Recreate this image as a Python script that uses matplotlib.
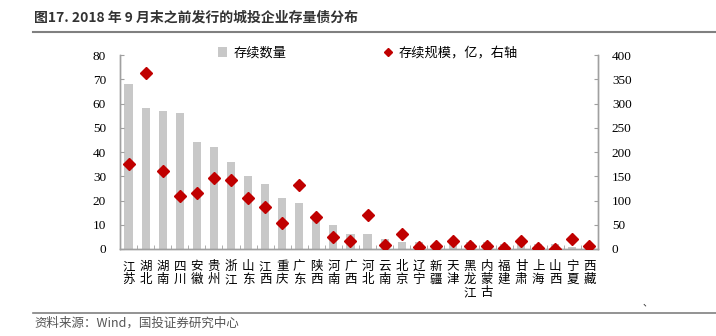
import numpy as np
import matplotlib.pyplot as plt
from matplotlib.lines import Line2D
from matplotlib.patches import Patch

plt.rcParams['font.family'] = ['Noto Sans CJK SC', 'DejaVu Sans']

BAR = "#c8c8c8"
RED = "#c00000"
AXC = "#a0a0a0"

provinces = ["江苏", "湖北", "湖南", "四川", "安徽", "贵州", "浙江", "山东", "江西", "重庆",
             "广东", "陕西", "河南", "广西", "河北", "云南", "北京", "辽宁", "新疆", "天津",
             "黑龙江", "内蒙古", "福建", "甘肃", "上海", "山西", "宁夏", "西藏"]
# number of bonds outstanding (left axis)
counts = [68, 58, 57, 56, 44, 42, 36, 30, 27, 21,
          19, 13, 10, 6, 6, 4, 3, 3, 2, 3,
          3, 3, 2, 3, 2, 2, 1, 1]
# outstanding amount, 100m yuan (right axis)
amounts = [176, 364, 161, 109, 116, 146, 142, 106, 87, 54,
           132, 65, 24, 17, 70, 9, 30, 4, 7, 17,
           7, 7, 1.5, 17, 1.5, 0, 20, 7]

x = np.arange(len(provinces))

fig = plt.figure(figsize=(7.16, 3.36), dpi=100)
ax = fig.add_axes([0.1676, 0.259, 0.6676, 0.577])
ax2 = ax.twinx()

ax.bar(x, counts, width=0.48, color=BAR, zorder=1)
ax2.plot(x, amounts, ls="none", marker="D", ms=6, color=RED, mec=RED, zorder=3)

ax.set_xlim(-0.5, len(provinces) - 0.5)
ax.set_ylim(0, 80)
ax.set_yticks(np.arange(0, 81, 10))
ax2.set_ylim(0, 400)
ax2.set_yticks(np.arange(0, 401, 50))

serif = dict(family="Liberation Serif", size=9.5)
for lab in ax.get_yticklabels():
    lab.set_fontproperties(serif)
for lab in ax2.get_yticklabels():
    lab.set_fontproperties(serif)

ax.set_xticks(x)
ax.set_xticklabels(["\n".join(p) for p in provinces], fontsize=9, linespacing=1.0,
                   va="top")
ax.set_xticks(np.arange(-0.5, len(provinces)), minor=True)
ax.tick_params(axis="x", which="major", length=0, pad=8)
ax.tick_params(axis="x", which="minor", direction="in", length=3, color=AXC)
ax.tick_params(axis="y", direction="in", length=3, color=AXC, pad=10)
ax2.tick_params(axis="y", direction="in", length=3, color=AXC, pad=10)

for a in (ax, ax2):
    a.spines["top"].set_visible(False)
    for s in ("left", "right", "bottom"):
        a.spines[s].set_color(AXC)
        a.spines[s].set_linewidth(1.0)
ax2.set_zorder(ax.get_zorder() + 1)
ax2.patch.set_visible(False)

handles = [Patch(facecolor=BAR, edgecolor="none", label="存续数量"),
           Line2D([], [], ls="none", marker="D", ms=4, color=RED, label="存续规模，亿，右轴")]
fig.legend(handles=handles, loc="center left", bbox_to_anchor=(0.288, 0.842), ncol=2,
           frameon=False, fontsize=9.5, handlelength=0.7, handletextpad=0.5,
           columnspacing=7.3)

# title with rule underneath
fig.text(0.047, 0.948, "图17. 2018 年 9 月末之前发行的城投企业存量债分布",
         fontsize=10, fontweight="bold", color="#333333", va="center")
fig.add_artist(Line2D([0.046, 1.0], [0.905, 0.905], color="#808080", lw=1.5))

# source line
fig.add_artist(Line2D([0.046, 1.0], [0.068, 0.068], color="#808080", lw=1.2))
fig.text(0.048, 0.038, "资料来源：Wind，国投证券研究中心", fontsize=9,
         style="italic", color="#555555", va="center")
fig.text(0.897, 0.1, "、", fontsize=7, color="#333333", va="center")

fig.savefig("out.png", dpi=100)
